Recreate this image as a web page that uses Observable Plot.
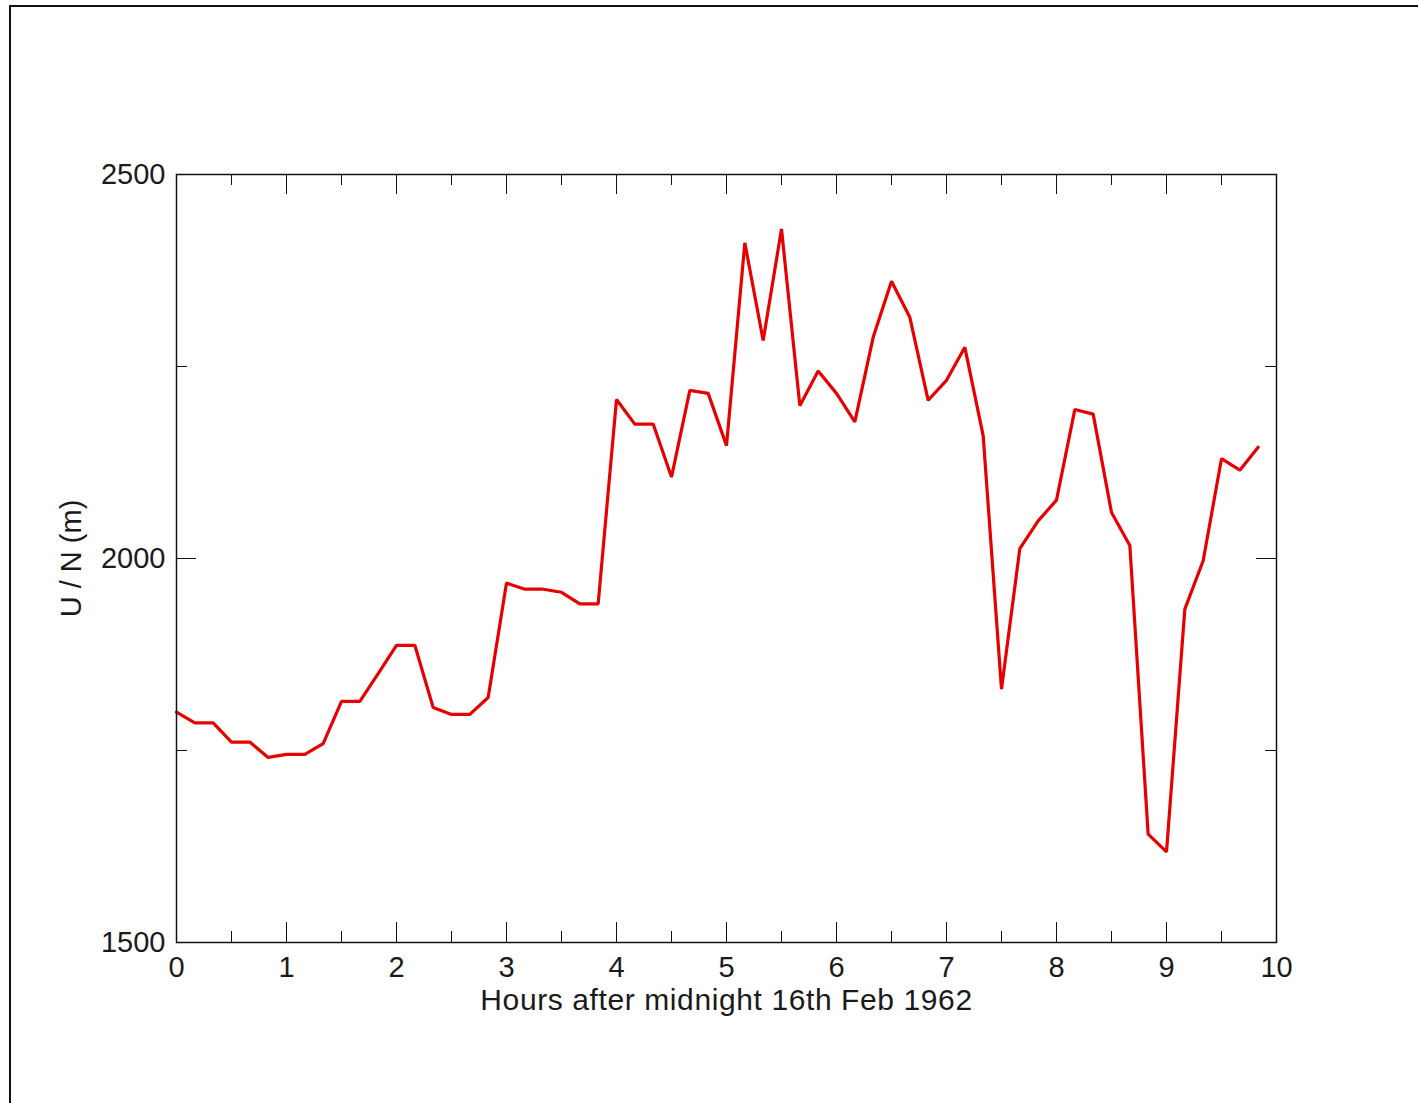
<!DOCTYPE html>
<html>
<head>
<meta charset="utf-8">
<script src="https://cdn.jsdelivr.net/npm/d3@7"></script>
<script src="https://cdn.jsdelivr.net/npm/@observablehq/plot@0.6"></script>
<style>
  html, body { margin: 0; padding: 0; background: #fff; width: 1418px; height: 1103px; overflow: hidden; }
  #border { position: absolute; left: 9px; top: 5px; right: 0; bottom: 0; border-top: 2px solid #111; border-left: 2px solid #111; }
  #chart { position: absolute; left: 0; top: 0; }
</style>
</head>
<body>
<div id="border"></div>
<div id="chart"></div>
<script>
// Hours after midnight (10-minute steps)
const hours = [
  0, 1/6, 2/6, 3/6, 4/6, 5/6, 1, 7/6, 8/6, 9/6, 10/6, 11/6,
  2, 13/6, 14/6, 15/6, 16/6, 17/6, 3, 19/6, 20/6, 21/6, 22/6, 23/6,
  4, 25/6, 26/6, 27/6, 28/6, 29/6, 5, 31/6, 32/6, 33/6, 34/6, 35/6,
  6, 37/6, 38/6, 39/6, 40/6, 41/6, 7, 43/6, 44/6, 45/6, 46/6, 47/6,
  8, 49/6, 50/6, 51/6, 52/6, 53/6, 9, 55/6, 56/6, 57/6, 58/6, 59/6
];
// U / N (m)
const uOverN = [
  1800, 1786, 1786, 1761, 1761, 1741, 1745, 1745, 1759, 1814, 1814, 1850,
  1887, 1887, 1806, 1797, 1797, 1819, 1968, 1960, 1960, 1956, 1941, 1941,
  2207, 2175, 2175, 2106, 2219, 2215, 2147, 2411, 2284, 2429, 2199, 2244,
  2215, 2178, 2288, 2361, 2314, 2206, 2232, 2275, 2160, 1830, 2013, 2049,
  2076, 2194, 2188, 2060, 2017, 1641, 1618, 1934, 1997, 2130, 2115, 2145
];
const xMajorTicks = [0, 1, 2, 3, 4, 5, 6, 7, 8, 9, 10];
const xMinorTicks = [0.5, 1.5, 2.5, 3.5, 4.5, 5.5, 6.5, 7.5, 8.5, 9.5];
const yMajorTicks = [1500, 2000, 2500];
const yMinorTicks = [1750, 2250];
const xLabel = "Hours after midnight 16th Feb 1962";
const yLabel = "U / N (m)";

const data = hours.map((h, i) => ({hours: h, value: uOverN[i]}));

const W = 1418, H = 1103;
const mTop = 174, mBottom = 161, mLeft = 176, mRight = 142;
const innerW = W - mLeft - mRight;   // 1100
const innerH = H - mTop - mBottom;   // 768
const majorLen = 20, minorLen = 11;
const font = "'Liberation Sans', Arial, Helvetica, sans-serif";

const chart = Plot.plot({
  width: W,
  height: H,
  marginTop: mTop,
  marginBottom: mBottom,
  marginLeft: mLeft,
  marginRight: mRight,
  style: {fontFamily: font, background: "transparent", color: "#1a1a1a"},
  x: {domain: [0, 10]},
  y: {domain: [1500, 2500]},
  marks: [
    Plot.axisX(xMajorTicks, {tickSize: 0, tickPadding: 14, fontSize: 29, label: null, tickFormat: d => String(d)}),
    Plot.axisY(yMajorTicks, {tickSize: 0, tickPadding: 11, fontSize: 29, label: null, tickFormat: d => String(d)}),
    // inward ticks: bottom and top
    Plot.tickX(xMajorTicks, {x: d => d, insetTop: innerH - majorLen, stroke: "#111"}),
    Plot.tickX(xMajorTicks, {x: d => d, insetBottom: innerH - majorLen, stroke: "#111"}),
    Plot.tickX(xMinorTicks, {x: d => d, insetTop: innerH - minorLen, stroke: "#111"}),
    Plot.tickX(xMinorTicks, {x: d => d, insetBottom: innerH - minorLen, stroke: "#111"}),
    // inward ticks: left and right
    Plot.tickY(yMajorTicks, {y: d => d, insetRight: innerW - majorLen, stroke: "#111"}),
    Plot.tickY(yMajorTicks, {y: d => d, insetLeft: innerW - majorLen, stroke: "#111"}),
    Plot.tickY(yMinorTicks, {y: d => d, insetRight: innerW - minorLen, stroke: "#111"}),
    Plot.tickY(yMinorTicks, {y: d => d, insetLeft: innerW - minorLen, stroke: "#111"}),
    Plot.line(data, {x: "hours", y: "value", stroke: "#e60000", strokeWidth: 3.2, strokeLinejoin: "miter"}),
    Plot.frame({stroke: "#111", strokeWidth: 1.5}),
    Plot.text([xLabel], {text: d => d, frameAnchor: "bottom", dy: 58, fontSize: 30, lineAnchor: "middle", textAnchor: "middle", fill: "#1a1a1a", style: {letterSpacing: "0.6px"}}),
    Plot.text([yLabel], {text: d => d, frameAnchor: "left", dx: -105, rotate: -90, fontSize: 29, lineAnchor: "middle", textAnchor: "middle", fill: "#1a1a1a"})
  ]
});
document.getElementById("chart").append(chart);
// apply letter spacing to the x-axis title (Plot.text has no letterSpacing option)
chart.querySelectorAll("text").forEach(t => { if (t.textContent === xLabel) t.setAttribute("letter-spacing", "0.6"); });
</script>
</body>
</html>
